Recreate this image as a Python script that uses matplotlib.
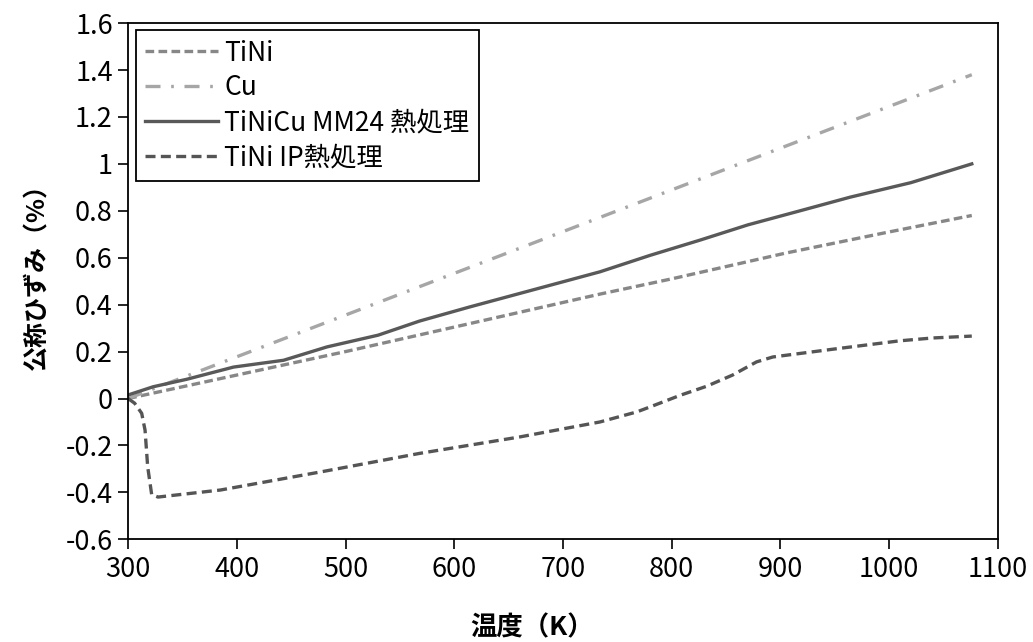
import matplotlib
matplotlib.use("Agg")
import matplotlib.pyplot as plt

plt.rcParams['font.family'] = ['Noto Sans CJK JP', 'DejaVu Sans']
plt.rcParams['axes.unicode_minus'] = False

# values
temp_tini = [300, 400, 500, 612, 734, 800, 905, 1000, 1076]
strain_tini = [0.0, 0.10, 0.20, 0.317, 0.445, 0.51, 0.62, 0.71, 0.78]

temp_cu = [300, 1076]
strain_cu = [0.0, 1.38]

temp_mm24 = [300, 323, 354, 397, 443, 483, 530, 568, 614, 670, 734, 780,
             826, 870, 918, 964, 1020, 1076]
strain_mm24 = [0.015, 0.05, 0.082, 0.134, 0.163, 0.22, 0.27, 0.33, 0.39, 0.46,
               0.54, 0.61, 0.675, 0.74, 0.80, 0.858, 0.92, 1.0]

temp_ip = [300, 306, 312.5, 315.6, 318, 321.7, 327.6, 385, 477, 568, 660, 734,
           768, 780, 808, 832, 856, 878, 893, 948, 1010, 1040, 1076]
strain_ip = [0.0, -0.02, -0.063, -0.135, -0.29, -0.41, -0.42, -0.39, -0.313,
             -0.234, -0.164, -0.10, -0.057, -0.036, 0.014, 0.052, 0.10, 0.156,
             0.177, 0.21, 0.246, 0.258, 0.266]

labels = ['TiNi', 'Cu', 'TiNiCu MM24 熱処理', 'TiNi IP熱処理']

fig = plt.figure(figsize=(10.33, 6.42), dpi=100)
ax = fig.add_axes([0.124, 0.160, 0.842, 0.804])

lw = 2.4
ax.plot(temp_tini, strain_tini, color='#878787', lw=lw, linestyle=(0, (2.6, 1.3)),
        label=labels[0])
ax.plot(temp_cu, strain_cu, color='#a6a6a6', lw=lw, linestyle=(0, (4.5, 3.2, 0.8, 3.2)),
        label=labels[1])
ax.plot(temp_mm24, strain_mm24, color='#595959', lw=lw, linestyle='-',
        label=labels[2])
ax.plot(temp_ip, strain_ip, color='#555555', lw=lw, linestyle=(0, (3.0, 1.6)),
        label=labels[3])

ax.set_xlim(300, 1100)
ax.set_ylim(-0.6, 1.6)
ax.set_xticks(range(300, 1101, 100))
yt = [-0.6, -0.4, -0.2, 0, 0.2, 0.4, 0.6, 0.8, 1, 1.2, 1.4, 1.6]
ax.set_yticks(yt)
ax.set_yticklabels(['-0.6', '-0.4', '-0.2', '0', '0.2', '0.4', '0.6', '0.8',
                    '1', '1.2', '1.4', '1.6'])
ax.tick_params(axis='both', direction='out', length=7, width=1.2,
               labelsize=19.5, pad=4)
ax.tick_params(axis='x', pad=5)
for s in ax.spines.values():
    s.set_linewidth(1.3)
    s.set_color('black')

ax.set_xlabel('温度（K）', fontsize=19, fontweight='bold')
ax.xaxis.set_label_coords(0.465, -0.145)
ax.set_ylabel('公称ひずみ（%）', fontsize=18, fontweight='bold')
ax.yaxis.set_label_coords(-0.09, 0.52)

leg = ax.legend(loc='upper left', bbox_to_anchor=(0.009, 0.986), borderaxespad=0,
                fontsize=19, handlelength=2.75, handletextpad=0.25,
                labelspacing=0.3, borderpad=0.35, fancybox=False, framealpha=1)
leg.get_frame().set_edgecolor('black')
leg.get_frame().set_linewidth(1.3)

fig.savefig('out.png', dpi=100)
